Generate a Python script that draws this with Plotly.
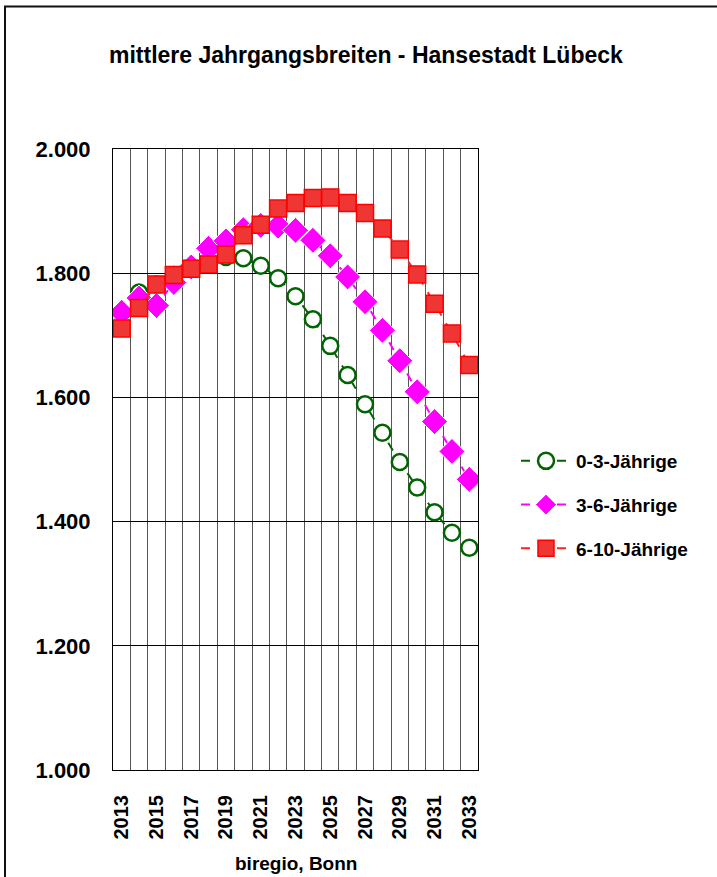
import plotly.graph_objects as go

years = list(range(2013, 2034))
kids_0_3 = [1735, 1769, 1782, 1797, 1811, 1820, 1826, 1824, 1812, 1792, 1763, 1726,
            1683, 1636, 1589, 1543, 1496, 1455, 1415, 1382, 1358]
kids_3_6 = [1737, 1760, 1748, 1785, 1810, 1840, 1852, 1870, 1877, 1876, 1869, 1853,
            1828, 1794, 1754, 1708, 1659, 1609, 1561, 1513, 1468]
kids_6_10 = [1711, 1744, 1782, 1797, 1807, 1814, 1830, 1861, 1878, 1904, 1913, 1921,
             1922, 1913, 1897, 1872, 1838, 1798, 1751, 1703, 1652]
series_names = ["0-3-Jährige", "3-6-Jährige", "6-10-Jährige"]
xtick_years = list(range(2013, 2034, 2))
ytick_vals = [1000, 1200, 1400, 1600, 1800, 2000]
ytick_text = ["1.000", "1.200", "1.400", "1.600", "1.800", "2.000"]
title_text = "mittlere Jahrgangsbreiten - Hansestadt Lübeck"
source_text = "biregio, Bonn"

FONT = "Liberation Sans, Arial, sans-serif"

fig = go.Figure()
fig.add_trace(go.Scatter(
    x=years, y=kids_0_3, name=series_names[0], mode="lines+markers",
    line=dict(color="#006400", width=2, dash="dash"),
    marker=dict(symbol="circle", size=16, color="white",
                line=dict(color="#006400", width=2.5)),
    legendgroup="a"))
fig.add_trace(go.Scatter(
    x=years, y=kids_3_6, name=series_names[1], mode="lines+markers",
    line=dict(color="#ff00ff", width=2, dash="dash"),
    marker=dict(symbol="diamond", size=20, color="#ff00ff",
                line=dict(color="white", width=1)),
    legendgroup="b"))
fig.add_trace(go.Scatter(
    x=years, y=kids_6_10, name=series_names[2], mode="lines+markers",
    line=dict(color="#ff2020", width=2, dash="dash"),
    marker=dict(symbol="square", size=17, color="#f03535",
                line=dict(color="#ff0000", width=1.5)),
    legendgroup="c"))

L, R, T, B = 113, 239, 149, 107
W, H = 717, 877
pw = W - L - R
ph = H - T - B

fig.update_layout(
    width=W, height=H,
    margin=dict(l=L, r=R, t=T, b=B),
    paper_bgcolor="white", plot_bgcolor="white",
    font=dict(family=FONT, color="black"),
    showlegend=True,
    legend=dict(x=(516 - L) / pw, y=(H - B - 505) / ph, xanchor="left", yanchor="middle",
                font=dict(size=19, family=FONT, weight="bold"),
                tracegroupgap=16, itemwidth=50, bgcolor="rgba(0,0,0,0)"),
    xaxis=dict(range=[2012.5, 2033.5], tickmode="array", tickvals=xtick_years,
               ticktext=[str(y) for y in xtick_years], tickangle=-90,
               tickfont=dict(size=20, family=FONT, weight="bold"),
               showgrid=False, zeroline=False, showline=True, linecolor="black",
               linewidth=1, mirror=True, ticks="", ticklabelstandoff=16,
               minor=dict(tickmode="linear", tick0=2012.5, dtick=1, showgrid=True,
                          gridcolor="#555555", gridwidth=1, ticks="")),
    yaxis=dict(range=[1000, 2000], tickmode="array", tickvals=ytick_vals, ticktext=ytick_text,
               tickfont=dict(size=22, family=FONT, weight="bold"),
               showgrid=True, gridcolor="black", gridwidth=1, zeroline=False,
               showline=True, linecolor="black", linewidth=1, mirror=True,
               ticks="", ticklabelstandoff=17),
    annotations=[
        dict(text=title_text, x=(366 - L) / pw, y=(H - B - 55) / ph, xref="paper", yref="paper",
             xanchor="center", yanchor="middle", showarrow=False,
             font=dict(size=23, family=FONT, weight="bold")),
        dict(text=source_text, x=(296 - L) / pw, y=(H - B - 863) / ph, xref="paper", yref="paper",
             xanchor="center", yanchor="middle", showarrow=False,
             font=dict(size=19, family=FONT, weight="bold")),
    ],
    shapes=[
        dict(type="rect", xref="paper", yref="paper",
             x0=(5 - L) / pw, x1=(730 - L) / pw, y0=(H - B - 900) / ph, y1=(H - B - 6.5) / ph,
             line=dict(color="#111111", width=2), fillcolor="rgba(0,0,0,0)", layer="below"),
    ],
)

fig.write_html("out.html", config={"displayModeBar": False},
               post_script="document.body.style.margin='0px';document.body.style.overflow='hidden';")
